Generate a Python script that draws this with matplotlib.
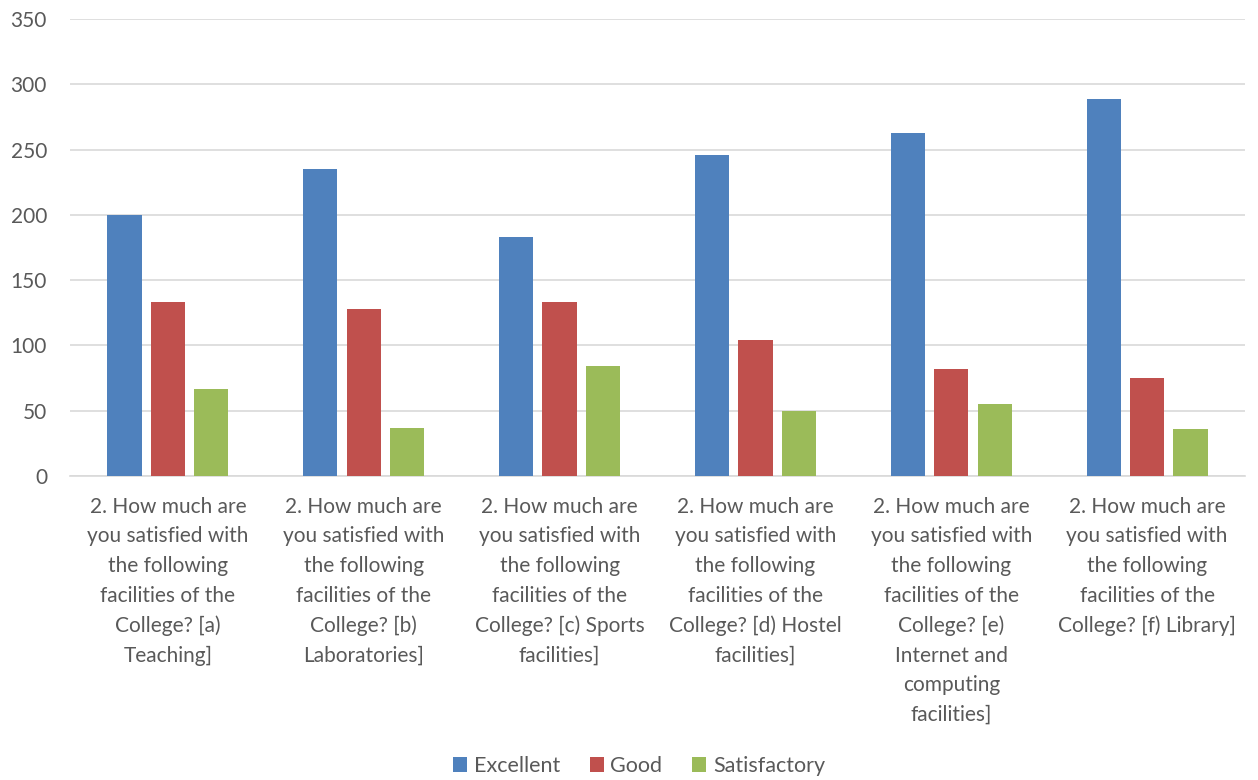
import numpy as np
import matplotlib.pyplot as plt

plt.rcParams['font.family'] = ['Lato', 'DejaVu Sans']

# --- Data ---
stem = "2. How much are\nyou satisfied with\nthe following\nfacilities of the\n"
categories = [
    stem + "College? [a)\nTeaching]",
    stem + "College? [b)\nLaboratories]",
    stem + "College? [c) Sports\nfacilities]",
    stem + "College? [d) Hostel\nfacilities]",
    stem + "College? [e)\nInternet and\ncomputing\nfacilities]",
    stem + "College? [f) Library]",
]
excellent = [200, 235, 183, 246, 263, 289]
good = [133, 128, 133, 104, 82, 75]
satisfactory = [67, 37, 84, 50, 55, 36]
series_names = ["Excellent", "Good", "Satisfactory"]
yticks = [0, 50, 100, 150, 200, 250, 300, 350]

# --- Style ---
colors = ["#4F81BD", "#C0504D", "#9BBB59"]
text_col = "#595959"
grid_col = "#D9D9D9"
fs = 15

fig = plt.figure(figsize=(12.58, 7.8), dpi=100)
ax = fig.add_axes([0.0556, 0.3897, 0.9341, 0.5859])

x = np.arange(len(categories))
step = 0.222
width = 0.175
for i, (vals, name) in enumerate(zip([excellent, good, satisfactory], series_names)):
    ax.bar(x + (i - 1) * step, vals, width, color=colors[i], label=name, zorder=3)

ax.set_xlim(-0.5, len(categories) - 0.5)
ax.set_ylim(0, 350)
ax.set_yticks(yticks)
ax.set_xticks(x)
ax.set_xticklabels(categories, fontsize=fs, color=text_col, linespacing=1.6, va='top')
ax.tick_params(axis='both', length=0, colors=text_col, labelsize=fs)
ax.tick_params(axis='x', pad=15)
ax.tick_params(axis='y', pad=16.5)
for lab in ax.get_yticklabels():
    lab.set_color(text_col)

ax.grid(axis='y', color=grid_col, linewidth=1.2, zorder=0)
for s in ['top', 'right', 'left']:
    ax.spines[s].set_visible(False)
ax.spines['bottom'].set_color(grid_col)
ax.spines['bottom'].set_linewidth(1.2)

leg = fig.legend(loc='center', bbox_to_anchor=(0.508, 0.018), ncol=3, frameon=False,
                 fontsize=15.5, handlelength=0.65, handleheight=0.65,
                 handletextpad=0.3, columnspacing=1.4)
for t in leg.get_texts():
    t.set_color(text_col)

fig.savefig("out.png", dpi=100)
